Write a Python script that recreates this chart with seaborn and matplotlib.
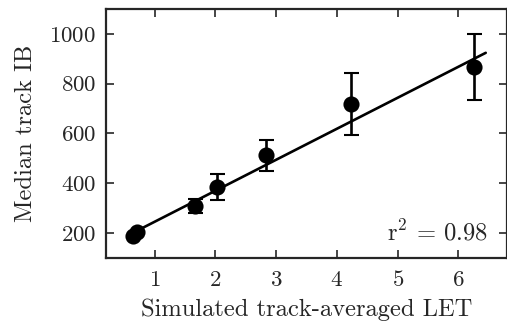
import matplotlib
matplotlib.use("Agg")
import matplotlib.pyplot as plt
import seaborn as sns
import numpy as np
import pandas as pd

# Data
let_values = [0.64, 0.71, 1.67, 2.02, 2.83, 4.23, 6.26]
median_ib = [190, 203, 308, 384, 512, 719, 868]
ib_err = [0, 0, 27, 52, 63, 124, 132]
fit_slope = 124.5
fit_intercept = 121.0
fit_range = [0.65, 6.45]
r2_text = r"r$^2$ = 0.98"
x_ticks = [1, 2, 3, 4, 5, 6]
y_ticks = [200, 400, 600, 800, 1000]

sns.set_style("ticks")
plt.rcParams["font.family"] = "serif"
plt.rcParams["font.serif"] = ["cmr10", "DejaVu Serif"]
plt.rcParams["mathtext.fontset"] = "cm"
plt.rcParams["axes.formatter.use_mathtext"] = True
plt.rcParams["axes.unicode_minus"] = False

df = pd.DataFrame({"LET": let_values, "IB": median_ib, "err": ib_err})
fit_df = pd.DataFrame({"LET": fit_range,
                       "IB": [fit_intercept + fit_slope * v for v in fit_range]})

fig = plt.figure(figsize=(5.07, 3.26), dpi=100)
ax = fig.add_axes([106 / 507, 1 - 258 / 326, 401 / 507, 249 / 326])

sns.lineplot(data=fit_df, x="LET", y="IB", ax=ax, color="black", lw=1.9, zorder=2)
eb = df[df["err"] > 0]
ax.errorbar(eb["LET"], eb["IB"], yerr=eb["err"], fmt="none", ecolor="black",
            elinewidth=1.9, capsize=5.4, capthick=1.5, zorder=3)
sns.scatterplot(data=df, x="LET", y="IB", ax=ax, color="black", s=135,
                edgecolor="black", linewidth=0, zorder=4)

ax.set_xlim(0.2, 6.8)
ax.set_ylim(100, 1100)
ax.set_xticks(x_ticks)
ax.set_yticks(y_ticks)
ax.tick_params(direction="in", length=6, width=1.2, top=True, right=True,
               labelsize=16.5, pad=7)
ax.tick_params(axis="x", pad=9)
for s in ax.spines.values():
    s.set_linewidth(1.6)
    s.set_visible(True)

ax.set_xlabel("Simulated track-averaged LET", fontsize=17.7, labelpad=6)
ax.set_ylabel("Median track IB", fontsize=17.7, labelpad=9)
ax.text(0.953, 0.1, r2_text, transform=ax.transAxes, ha="right", va="center",
        fontsize=17.7)

fig.savefig("out.png", dpi=100)
